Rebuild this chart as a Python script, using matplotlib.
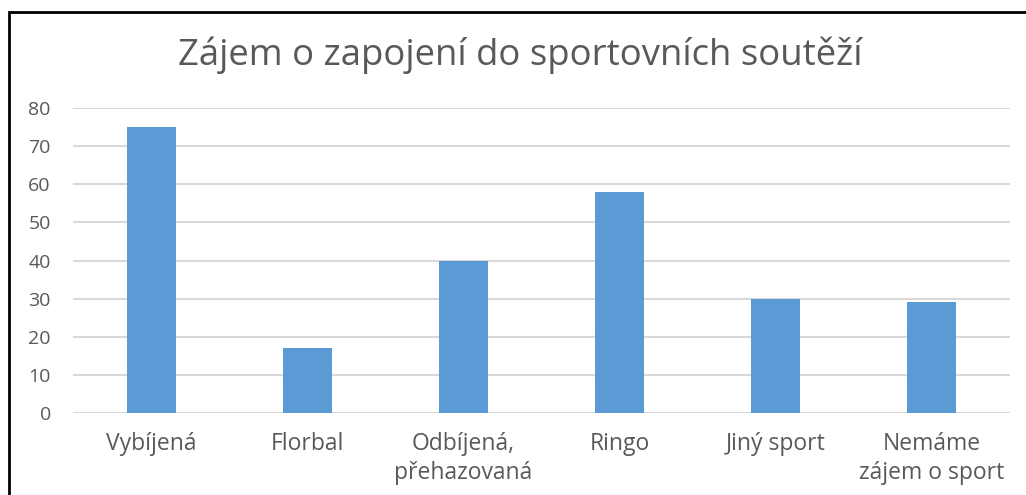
import matplotlib
matplotlib.use("Agg")
import matplotlib.pyplot as plt
from matplotlib.patches import Rectangle

categories = ["Vybíjená", "Florbal", "Odbíjená,\npřehazovaná", "Ringo", "Jiný sport", "Nemáme\nzájem o sport"]
values = [75, 17, 40, 58, 30, 29]
yticks = [0, 10, 20, 30, 40, 50, 60, 70, 80]
title = "Zájem o zapojení do sportovních soutěží"

W, H = 1026, 495
fig = plt.figure(figsize=(W / 100, H / 100), dpi=100)
plt.rcParams['font.family'] = ['Open Sans', 'DejaVu Sans']
txt = "#595959"

ax = fig.add_axes([73 / W, 1 - 413 / H, (1010 - 73) / W, (413 - 108) / H])
x = list(range(len(categories)))
ax.bar(x, values, width=0.314, color="#5b9bd5", zorder=3)
ax.set_xlim(-0.5, len(categories) - 0.5)
ax.set_ylim(0, 80)
ax.set_yticks(yticks)
ax.set_yticklabels([str(v) for v in yticks], fontsize=14, color=txt)
ax.set_xticks(x)
ax.set_xticklabels(categories, fontsize=16.5, color=txt, linespacing=1.28, va="top")
ax.tick_params(axis="y", length=0, pad=16)
ax.tick_params(axis="x", length=0, pad=14)
ax.grid(axis="y", color="#d9d9d9", linewidth=1.5, zorder=0)
for s in ax.spines.values():
    s.set_visible(False)

fig.text(520 / W, 1 - 55 / H, title, fontsize=26.3, color=txt, ha="center", va="center")

fig.patches.append(Rectangle((8.5 / W, -0.1), 1.2, 1 - 11.5 / H + 0.1,
                             transform=fig.transFigure, fill=False,
                             edgecolor="black", linewidth=2, clip_on=False))

fig.savefig("out.png", dpi=100, facecolor="white")
